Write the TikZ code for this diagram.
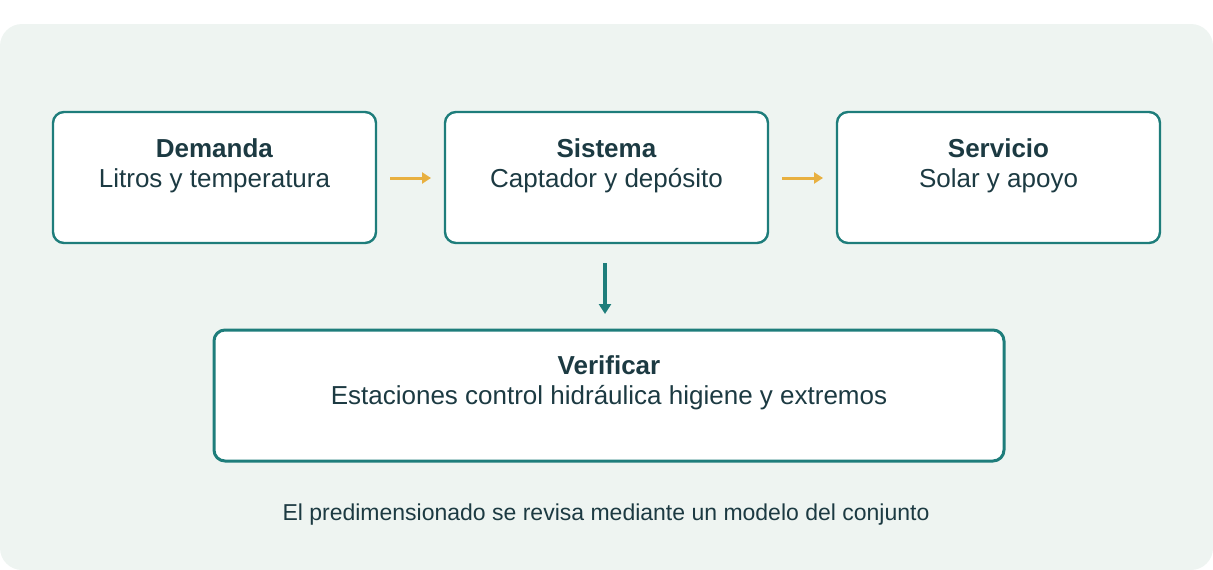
\documentclass[tikz,border=0pt]{standalone}
\usepackage{fontspec}
\setmainfont{Liberation Sans}
\usetikzlibrary{arrows.meta}
\definecolor{bg}{HTML}{EEF4F1}
\definecolor{teal}{HTML}{1E7D7B}
\definecolor{org}{HTML}{E8B040}
\definecolor{txt}{HTML}{1C3A42}
\begin{document}
\begin{tikzpicture}[x=1pt,y=-1pt,
 box/.style={draw=teal,line width=2.4pt,fill=white,rounded corners=11pt},
 t/.style={text=txt,font=\fontsize{26}{30}\selectfont,align=center},
 oa/.style={draw=org,line width=3pt,-{Triangle[length=9pt,width=11pt]}},
 ta/.style={draw=teal,line width=3.2pt,-{Triangle[length=10pt,width=12pt]}}]
\useasboundingbox (0,0) rectangle (1213,570);
\fill[bg,rounded corners=22pt] (0,24) rectangle (1213,570);
\draw[box] (53,112) rectangle (376,243);
\draw[box] (445,112) rectangle (768,243);
\draw[box] (837,112) rectangle (1160,243);
\draw[box,line width=3pt] (214,330) rectangle (1004,461);
\node[t] (d) at (214.5,166) {\textbf{Demanda}\\Litros y temperatura};
\node[t] (s) at (606.5,166) {\textbf{Sistema}\\Captador y depósito};
\node[t] (v) at (998.5,166) {\textbf{Servicio}\\Solar y apoyo};
\node[t] (f) at (609,383) {\textbf{Verificar}\\Estaciones control hidráulica higiene y extremos};
\node[text=txt,font=\fontsize{23}{26}\selectfont] (n) at (606,515) {El predimensionado se revisa mediante un modelo del conjunto};
\coordinate (a1) at (390,178); \coordinate (a2) at (431,178);
\coordinate (a3) at (782,178); \coordinate (a4) at (823,178);
\coordinate (a5) at (605,263); \coordinate (a6) at (605,314);
\draw[oa] (a1) -- (a2);
\draw[oa] (a3) -- (a4);
\draw[ta] (a5) -- (a6);
\end{tikzpicture}
\end{document}
